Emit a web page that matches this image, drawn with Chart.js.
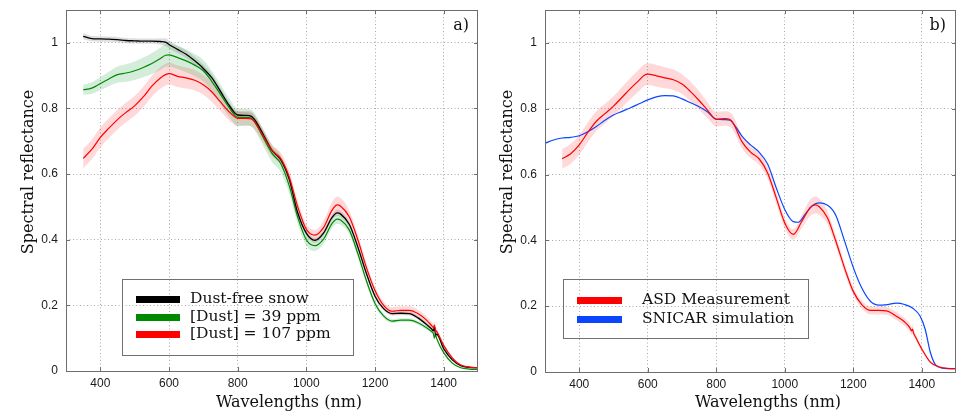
<!DOCTYPE html>
<html><head><meta charset="utf-8">
<script src="https://cdn.jsdelivr.net/npm/chart.js@4/dist/chart.umd.min.js"></script>
<style>
html,body{margin:0;padding:0;background:#fff;width:958px;height:414px;overflow:hidden}
canvas{position:absolute;top:0}
#ca{left:0}
#cb{left:479px}
</style></head><body>
<canvas id="ca" width="480" height="414"></canvas>
<canvas id="cb" width="479" height="414"></canvas>
<script>
// ---------- data ----------
const xTicks = [400, 600, 800, 1000, 1200, 1400];
const yTicks = [0, 0.2, 0.4, 0.6, 0.8, 1];
const yTickLabels = ['0', '0.2', '0.4', '0.6', '0.8', '1'];

const wavelengthsA = [350,375,400,425,450,475,500,525,550,575,
  590,600,625,650,675,700,725,750,775,800,
  825,840,850,875,900,925,950,975,1000,1025,
  1050,1075,1090,1100,1125,1150,1175,1200,1225,1250,
  1275,1300,1325,1350,1365,1370,1373,1376,1380,1400,
  1425,1450,1475,1500];

const dustFree = [1.02,1.013,1.012,1.011,1.010,1.007,1.006,1.005,1.005,1.004,
  1.002,0.995,0.98,0.965,0.945,0.922,0.893,0.852,0.81,0.78,
  0.779,0.776,0.765,0.72,0.672,0.645,0.585,0.482,0.42,0.398,
  0.42,0.468,0.482,0.478,0.447,0.378,0.297,0.228,0.19,0.175,
  0.176,0.175,0.162,0.142,0.128,0.122,0.135,0.11,0.112,0.068,
  0.034,0.016,0.011,0.01];
const dustFreeSd = [0.01,0.008,0.008,0.008,0.008,0.008,0.008,0.008,0.008,0.01,
  0.012,0.012,0.012,0.012,0.012,0.012,0.012,0.01,0.01,0.01,
  0.01,0.01,0.01,0.01,0.01,0.008,0.008,0.008,0.008,0.008,
  0.008,0.008,0.01,0.01,0.008,0.008,0.008,0.008,0.006,0.006,
  0.006,0.006,0.006,0.006,0.006,0.006,0.006,0.006,0.006,0.004,
  0.003,0.002,0.002,0.002];

const dust39 = [0.857,0.862,0.876,0.89,0.903,0.908,0.915,0.925,0.937,0.952,
  0.962,0.963,0.955,0.945,0.932,0.915,0.882,0.843,0.803,0.773,
  0.773,0.77,0.758,0.71,0.663,0.633,0.565,0.468,0.4,0.382,
  0.402,0.45,0.463,0.46,0.43,0.358,0.275,0.206,0.168,0.152,
  0.155,0.155,0.147,0.132,0.12,0.114,0.1,0.112,0.098,0.056,
  0.024,0.01,0.006,0.005];
const dust39Sd = [0.015,0.018,0.02,0.022,0.025,0.027,0.028,0.03,0.032,0.034,
  0.035,0.035,0.035,0.035,0.034,0.033,0.032,0.03,0.028,0.027,
  0.026,0.026,0.026,0.026,0.026,0.026,0.024,0.02,0.018,0.016,
  0.015,0.015,0.015,0.014,0.013,0.012,0.01,0.008,0.007,0.006,
  0.006,0.006,0.006,0.006,0.006,0.006,0.006,0.006,0.006,0.004,
  0.003,0.002,0.002,0.002];

const dust107 = [0.648,0.675,0.712,0.74,0.766,0.788,0.808,0.835,0.868,0.893,
  0.903,0.906,0.898,0.893,0.886,0.872,0.85,0.82,0.79,0.77,
  0.77,0.768,0.758,0.715,0.672,0.648,0.592,0.5,0.432,0.414,
  0.437,0.49,0.506,0.502,0.47,0.4,0.315,0.245,0.2,0.182,
  0.185,0.185,0.175,0.155,0.138,0.132,0.14,0.125,0.12,0.078,
  0.04,0.018,0.012,0.01];
const dust107Sd = [0.03,0.03,0.03,0.03,0.03,0.03,0.03,0.031,0.032,0.033,
  0.033,0.033,0.033,0.032,0.031,0.03,0.03,0.028,0.025,0.022,
  0.022,0.022,0.022,0.02,0.018,0.018,0.018,0.018,0.016,0.016,
  0.02,0.025,0.026,0.025,0.02,0.016,0.014,0.012,0.012,0.012,
  0.012,0.012,0.012,0.012,0.012,0.012,0.012,0.012,0.01,0.006,
  0.004,0.003,0.002,0.002];

// panel b: ASD measurement (same wavelength grid) and SNICAR simulation
const asdB = [0.648,0.663,0.69,0.728,0.762,0.785,0.808,0.835,0.862,0.887,
  0.902,0.905,0.9,0.894,0.888,0.875,0.852,0.825,0.795,0.768,
  0.77,0.767,0.755,0.7,0.668,0.648,0.605,0.53,0.453,0.418,
  0.458,0.5,0.508,0.503,0.468,0.395,0.315,0.245,0.205,0.187,
  0.187,0.185,0.17,0.152,0.135,0.125,0.13,0.118,0.11,0.07,
  0.03,0.016,0.011,0.01];
const asdBSd = dust107Sd;

const wavelengthsSim = [300,325,350,375,400,425,450,475,500,525,
  550,575,600,625,650,675,700,725,750,775,
  800,825,840,850,875,900,925,950,975,1000,
  1025,1040,1060,1080,1100,1125,1140,1150,1175,1200,
  1225,1250,1275,1300,1325,1350,1375,1395,1410,1425,
  1440,1460,1500];
const snicar = [0.695,0.705,0.711,0.713,0.718,0.73,0.746,0.765,0.781,0.792,
  0.803,0.815,0.827,0.836,0.84,0.839,0.83,0.818,0.806,0.79,
  0.768,0.767,0.765,0.755,0.717,0.69,0.668,0.632,0.56,0.494,
  0.457,0.455,0.48,0.505,0.514,0.507,0.492,0.474,0.397,0.318,
  0.255,0.215,0.203,0.205,0.209,0.205,0.193,0.17,0.13,0.06,
  0.022,0.012,0.01];

const namesA = ['Dust-free snow', '[Dust] = 39 ppm', '[Dust] = 107 ppm'];
const namesB = ['ASD Measurement', 'SNICAR simulation'];
const xTitle = 'Wavelengths (nm)';
const yTitle = 'Spectral reflectance';
const panelLabels = ['a)', 'b)'];

// ---------- styling ----------
const C = {black:'#000000', green:'#008a00', red:'#ff0000', blue:'#0a46ff'};
const BAND = {black:'rgba(0,0,0,0.13)', green:'rgba(0,150,40,0.17)', red:'rgba(255,30,30,0.17)'};
const serif = '"DejaVu Serif", serif';
const sans = '"Liberation Sans", Arial, sans-serif';

const pts = (xs, ys) => xs.map((x, i) => ({x, y: ys[i]}));
const ptsOff = (xs, ys, sd, s) => xs.map((x, i) => ({x, y: ys[i] + s * sd[i]}));

function lineDs(xs, ys, color, w) {
  return {data: pts(xs, ys), borderColor: color, borderWidth: w, fill: false, pointRadius: 0};
}
function bandDs(xs, ys, sd, color, upperIndex) {
  return [
    {data: ptsOff(xs, ys, sd, 1), borderWidth: 0, borderColor: 'rgba(0,0,0,0)', pointRadius: 0, fill: false},
    {data: ptsOff(xs, ys, sd, -1), borderWidth: 0, borderColor: 'rgba(0,0,0,0)', pointRadius: 0,
     fill: {target: upperIndex}, backgroundColor: color}
  ];
}

const decor = {
  id: 'decor',
  afterDraw(chart, args, o) {
    const ctx = chart.ctx, a = chart.chartArea;
    const xs = chart.scales.x, ys = chart.scales.y;
    ctx.save();
    // frame
    ctx.strokeStyle = '#6e6e6e';
    ctx.lineWidth = 1;
    ctx.strokeRect(Math.round(a.left) + 0.5, Math.round(a.top) + 0.5,
                   Math.round(a.right - a.left) - 1, Math.round(a.bottom - a.top));
    // inner tick marks
    ctx.beginPath();
    xTicks.forEach(v => {
      const px = Math.round(xs.getPixelForValue(v)) + 0.5;
      ctx.moveTo(px, a.bottom); ctx.lineTo(px, a.bottom - 4);
      ctx.moveTo(px, a.top); ctx.lineTo(px, a.top + 4);
    });
    yTicks.forEach(v => {
      const py = Math.round(ys.getPixelForValue(v)) + 0.5;
      ctx.moveTo(a.left, py); ctx.lineTo(a.left + 4, py);
      ctx.moveTo(a.right, py); ctx.lineTo(a.right - 4, py);
    });
    ctx.stroke();
    // axis titles
    ctx.fillStyle = '#111';
    ctx.font = '16px ' + serif;
    ctx.textAlign = 'center';
    ctx.textBaseline = 'alphabetic';
    ctx.fillText(xTitle, o.xTitleX, o.xTitleY);
    ctx.save();
    ctx.translate(o.yTitleX, o.yTitleY);
    ctx.rotate(-Math.PI / 2);
    ctx.fillText(yTitle, 0, 0);
    ctx.restore();
    // panel label
    ctx.textAlign = 'right';
    ctx.fillText(o.label, o.labelX, o.labelY);
    // legend
    const L = o.legend;
    ctx.strokeStyle = '#707070';
    ctx.lineWidth = 1;
    ctx.strokeRect(L.x + 0.5, L.y + 0.5, L.w, L.h);
    ctx.font = '15.5px ' + serif;
    ctx.textAlign = 'left';
    L.items.forEach((it, i) => {
      ctx.fillStyle = it.color;
      ctx.fillRect(L.sx, L.rows[i] - 7, L.sw, 7);
      ctx.fillStyle = '#111';
      ctx.fillText(it.text, L.tx, L.rows[i]);
    });
    ctx.restore();
  }
};

function scales(xH) {
  return {
    x: {
      type: 'linear', min: 300, max: 1500,
      afterBuildTicks: s => { s.ticks = xTicks.map(v => ({value: v})); },
      afterFit: s => { s.height = xH; s.paddingLeft = 0; s.paddingRight = 0; },
      ticks: {font: {family: sans, size: 12}, color: '#1a1a1a', padding: 5, maxRotation: 0,
              callback: v => String(v)},
      grid: {color: '#a8a8a8', lineWidth: 1, drawTicks: false},
      border: {display: false, dash: [1, 2.5]}
    },
    y: {
      type: 'linear', min: 0, max: 1.1,
      afterBuildTicks: s => { s.ticks = yTicks.map(v => ({value: v})); },
      afterFit: s => { s.width = 66; s.paddingTop = 0; s.paddingBottom = 0; },
      ticks: {font: {family: sans, size: 12}, color: '#1a1a1a', padding: 8,
              callback: v => yTickLabels[yTicks.indexOf(Math.round(v * 10) / 10)] ?? ''},
      grid: {color: '#a8a8a8', lineWidth: 1, drawTicks: false},
      border: {display: false, dash: [1, 2.5]}
    }
  };
}

function baseOptions(xH, decorOpts) {
  return {
    responsive: false, animation: false, devicePixelRatio: 1,
    layout: {padding: {top: 10, right: 2, left: 0, bottom: 0}},
    elements: {line: {cubicInterpolationMode: 'monotone'}, point: {radius: 0}},
    plugins: {legend: {display: false}, tooltip: {enabled: false},
              filler: {drawTime: 'beforeDatasetsDraw'}, decor: decorOpts},
    scales: scales(xH)
  };
}

// panel a
const dsA = [
  lineDs(wavelengthsA, dust107, C.red, 1.2),
  lineDs(wavelengthsA, dustFree, C.black, 1.3),
  lineDs(wavelengthsA, dust39, C.green, 1.2)
];
dsA.push(...bandDs(wavelengthsA, dust39, dust39Sd, BAND.green, dsA.length));
dsA.push(...bandDs(wavelengthsA, dust107, dust107Sd, BAND.red, dsA.length));
dsA.push(...bandDs(wavelengthsA, dustFree, dustFreeSd, BAND.black, dsA.length));

new Chart(document.getElementById('ca'), {
  type: 'line',
  data: {datasets: dsA},
  options: baseOptions(43, {
    xTitleX: 289, xTitleY: 407, yTitleX: 33, yTitleY: 172,
    label: panelLabels[0], labelX: 469, labelY: 30,
    legend: {x: 122, y: 279, w: 231, h: 76, sx: 136, sw: 44, tx: 190, rows: [303, 321, 338],
      items: [{text: namesA[0], color: C.black}, {text: namesA[1], color: C.green}, {text: namesA[2], color: C.red}]}
  }),
  plugins: [decor]
});

// panel b
const dsB = [
  lineDs(wavelengthsA, asdB, C.red, 1.2),
  lineDs(wavelengthsSim, snicar, C.blue, 1.2)
];
dsB.push(...bandDs(wavelengthsA, asdB, asdBSd, BAND.red, dsB.length));

new Chart(document.getElementById('cb'), {
  type: 'line',
  data: {datasets: dsB},
  options: baseOptions(42, {
    xTitleX: 289, xTitleY: 407, yTitleX: 33, yTitleY: 172,
    label: panelLabels[1], labelX: 467, labelY: 30,
    legend: {x: 84, y: 279, w: 245, h: 59, sx: 98, sw: 45, tx: 163, rows: [304, 323],
      items: [{text: namesB[0], color: C.red}, {text: namesB[1], color: C.blue}]}
  }),
  plugins: [decor]
});
</script>
</body></html>
